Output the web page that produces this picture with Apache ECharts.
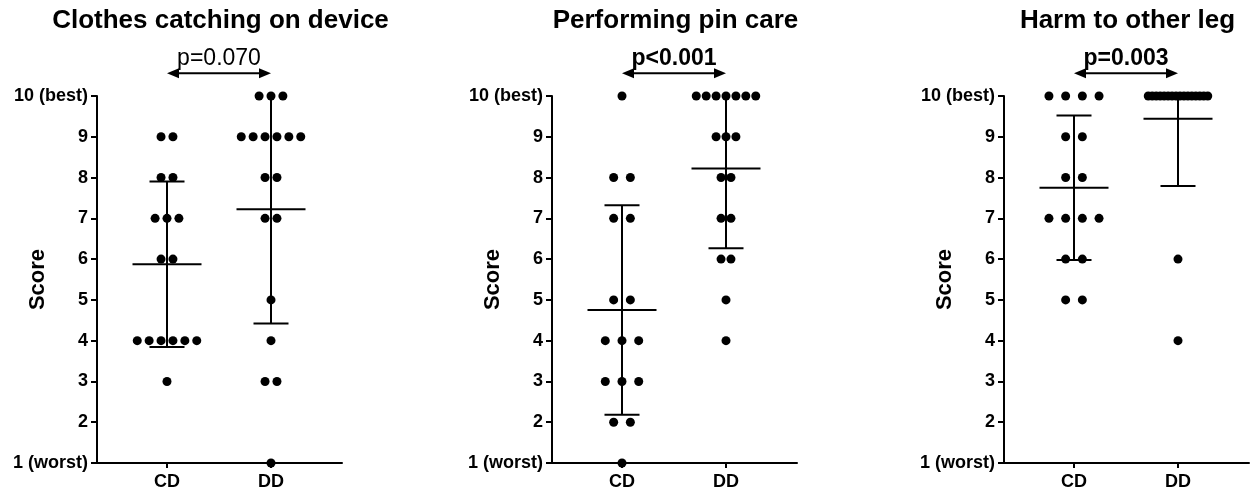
<!DOCTYPE html>
<html>
<head>
<meta charset="utf-8">
<script src="https://cdn.jsdelivr.net/npm/echarts@6/dist/echarts.min.js"></script>
<style>
  html, body { margin: 0; padding: 0; background: #fff; }
  #main { width: 1257px; height: 496px; }
</style>
</head>
<body>
<div id="main"></div>
<script>
// groups on the x axis
var groups = ['CD', 'DD'];
var titles = ['Clothes catching on device', 'Performing pin care', 'Harm to other leg'];
var pLabels = ['p=0.070', 'p<0.001', 'p=0.003'];
var pBold = [false, true, true];
var yTickLabels = ['1 (worst)', '2', '3', '4', '5', '6', '7', '8', '9', '10 (best)'];

// individual scores
var clothesCD = [9, 9, 8, 8, 7, 7, 7, 6, 6, 4, 4, 4, 4, 4, 4, 3];
var clothesDD = [10, 10, 10, 9, 9, 9, 9, 9, 9, 8, 8, 7, 7, 5, 4, 3, 3, 1];
var pinCD = [10, 8, 8, 7, 7, 5, 5, 4, 4, 4, 3, 3, 3, 2, 2, 1];
var pinDD = [10, 10, 10, 10, 10, 10, 10, 9, 9, 9, 8, 8, 7, 7, 6, 6, 5, 4];
var harmCD = [10, 10, 10, 10, 9, 9, 8, 8, 7, 7, 7, 7, 6, 6, 5, 5];
var harmDD = [10, 10, 10, 10, 10, 10, 10, 10, 10, 10, 10, 10, 10, 10, 10, 10, 6, 4];

var panels = [[clothesCD, clothesDD], [pinCD, pinDD], [harmCD, harmDD]];

var FONT = 'Liberation Sans, Arial, sans-serif';
var gridLefts = [97, 552, 1004];
var GRID_W = 245, GRID_TOP = 96, GRID_H = 367;
var PX_PER_UNIT = 104;            // distance CD -> DD
var X_MIN = 1 - 70 / PX_PER_UNIT;
var X_MAX = X_MIN + GRID_W / PX_PER_UNIT;
var Y_MIN = 1, Y_MAX = 10;
var ARROW_Y = 10.56;

function meanSd(arr) {
    var m = arr.reduce(function (a, b) { return a + b; }, 0) / arr.length;
    var ss = arr.reduce(function (a, b) { return a + (b - m) * (b - m); }, 0);
    return [m, Math.sqrt(ss / (arr.length - 1))];
}

// spread equal values sideways like a column scatter
function spread(arr, col) {
    var counts = {};
    arr.forEach(function (v) { counts[v] = (counts[v] || 0) + 1; });
    var maxN = 1;
    for (var k in counts) maxN = Math.max(maxN, counts[k]);
    var stepPx = maxN > 1 ? Math.min(16.7, 59.5 / (maxN - 1)) : 0;
    var step = stepPx / PX_PER_UNIT;
    var seen = {}, pts = [];
    arr.forEach(function (v) {
        var i = seen[v] || 0;
        seen[v] = i + 1;
        pts.push([col + (i - (counts[v] - 1) / 2) * step, v]);
    });
    return pts;
}

function errorBarItem(params, api) {
    var x = api.value(0), m = api.value(1), s = api.value(2);
    var top = Math.min(m + s, Y_MAX), bot = Math.max(m - s, Y_MIN);
    var pm = api.coord([x, m]), pt = api.coord([x, top]), pb = api.coord([x, bot]);
    var st = { stroke: '#000', lineWidth: 2 };
    var ch = [
        { type: 'line', shape: { x1: pt[0], y1: pt[1], x2: pb[0], y2: pb[1] }, style: st },
        { type: 'line', shape: { x1: pm[0] - 34.5, y1: pm[1], x2: pm[0] + 34.5, y2: pm[1] }, style: st }
    ];
    if (m + s <= Y_MAX) ch.push({ type: 'line', shape: { x1: pt[0] - 17.5, y1: pt[1], x2: pt[0] + 17.5, y2: pt[1] }, style: st });
    if (m - s >= Y_MIN) ch.push({ type: 'line', shape: { x1: pb[0] - 17.5, y1: pb[1], x2: pb[0] + 17.5, y2: pb[1] }, style: st });
    return { type: 'group', children: ch };
}

function arrowItem(k) {
    return function (params, api) {
        var a = api.coord([api.value(0), api.value(2)]);
        var b = api.coord([api.value(1), api.value(2)]);
        var L = 12, H = 5;
        return {
            type: 'group',
            children: [
                { type: 'line', shape: { x1: a[0] + 4, y1: a[1], x2: b[0] - 4, y2: b[1] }, style: { stroke: '#000', lineWidth: 2 } },
                { type: 'polygon', shape: { points: [[a[0], a[1]], [a[0] + L, a[1] - H], [a[0] + L, a[1] + H]] }, style: { fill: '#000' } },
                { type: 'polygon', shape: { points: [[b[0], b[1]], [b[0] - L, b[1] - H], [b[0] - L, b[1] + H]] }, style: { fill: '#000' } },
                {
                    type: 'text',
                    style: {
                        x: (a[0] + b[0]) / 2, y: a[1] - 3,
                        text: pLabels[k], fill: '#000',
                        font: (pBold[k] ? 'bold ' : '') + '23px ' + FONT,
                        align: 'center', verticalAlign: 'bottom'
                    }
                }
            ]
        };
    };
}

var grid = [], xAxis = [], yAxis = [], series = [], title = [];

panels.forEach(function (pair, k) {
    grid.push({ left: gridLefts[k], top: GRID_TOP, width: GRID_W, height: GRID_H, containLabel: false, outerBoundsMode: 'none' });
    title.push({
        text: titles[k], left: gridLefts[k] + GRID_W / 2 + 1, top: 8, textAlign: 'center', padding: 0,
        textStyle: { fontFamily: FONT, fontWeight: 'bold', fontSize: 26, color: '#000' }
    });
    xAxis.push({
        type: 'value', gridIndex: k, min: X_MIN, max: X_MAX,
        splitLine: { show: false },
        axisLine: { lineStyle: { color: '#000', width: 2 } },
        axisTick: { customValues: [1, 2], length: 5, lineStyle: { color: '#000', width: 2 } },
        axisLabel: {
            customValues: [1, 2], margin: 10,
            formatter: function (v) { return groups[Math.round(v) - 1]; },
            fontFamily: FONT, fontWeight: 'bold', fontSize: 18, color: '#000'
        }
    });
    yAxis.push({
        type: 'value', gridIndex: k, min: Y_MIN, max: Y_MAX, interval: 1,
        name: 'Score', nameLocation: 'middle', nameGap: 48, nameMoveOverlap: false,
        nameTextStyle: { fontFamily: FONT, fontWeight: 'bold', fontSize: 22, color: '#000' },
        splitLine: { show: false },
        axisLine: { show: true, lineStyle: { color: '#000', width: 2 } },
        axisTick: { show: true, length: 6, lineStyle: { color: '#000', width: 2 } },
        axisLabel: {
            margin: 9,
            formatter: function (v) { return yTickLabels[Math.round(v) - 1]; },
            fontFamily: FONT, fontWeight: 'bold', fontSize: 18, color: '#000'
        }
    });
    var pts = spread(pair[0], 1).concat(spread(pair[1], 2));
    series.push({
        type: 'scatter', xAxisIndex: k, yAxisIndex: k, data: pts,
        symbol: 'circle', symbolSize: 9, itemStyle: { color: '#000', opacity: 1 }, clip: false, z: 2,
        silent: true
    });
    var s0 = meanSd(pair[0]), s1 = meanSd(pair[1]);
    series.push({
        type: 'custom', xAxisIndex: k, yAxisIndex: k, clip: false, z: 3, silent: true,
        data: [[1, s0[0], s0[1]], [2, s1[0], s1[1]]],
        renderItem: errorBarItem
    });
    series.push({
        type: 'custom', xAxisIndex: k, yAxisIndex: k, clip: false, z: 3, silent: true,
        data: [[1, 2, ARROW_Y]],
        renderItem: arrowItem(k)
    });
});

var myChart = echarts.init(document.getElementById('main'));
myChart.setOption({
    animation: false,
    backgroundColor: '#fff',
    title: title,
    grid: grid,
    xAxis: xAxis,
    yAxis: yAxis,
    series: series
});
</script>
</body>
</html>
